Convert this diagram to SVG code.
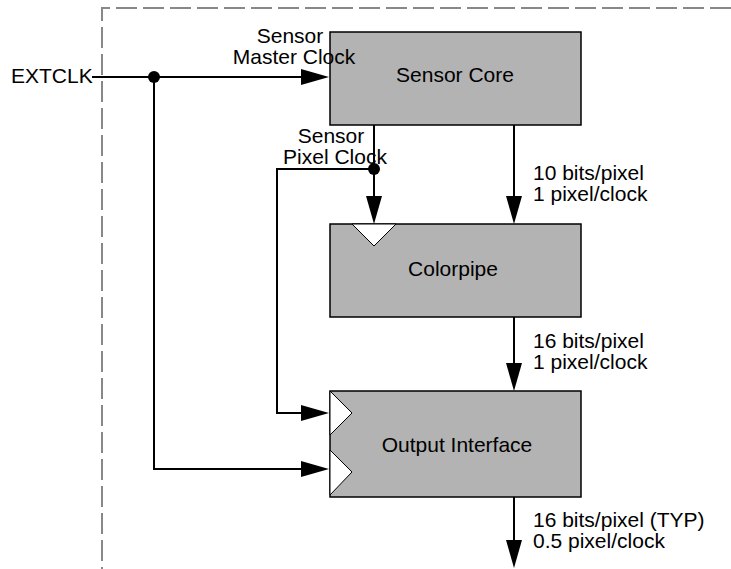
<svg xmlns="http://www.w3.org/2000/svg" width="731" height="569" viewBox="0 0 731 569">
<style>
.box{fill:#b3b3b3;stroke:#000;stroke-width:1.5}
.clk{fill:#fff;stroke:#000;stroke-width:1}
.w{fill:none;stroke:#000;stroke-width:2}
.ah{fill:#000;stroke:none}
.dot{fill:#000}
text{font-family:"Liberation Sans",Arial,sans-serif;font-size:21px;fill:#000}
.c{text-anchor:middle}
.border{fill:none;stroke:#888;stroke-width:2;stroke-dasharray:21 6}
</style>
<path class="border" d="M731 8 H102 V569"/>
<g id="connectors">
  <path class="w" d="M92 77 H302"/>
  <polygon class="ah" points="329,77 301,69 301,85"/>
  <circle class="dot" cx="154" cy="77" r="6"/>
  <path class="w" d="M154 77 V469 H302"/>
  <polygon class="ah" points="329,469 301,461 301,477"/>
  <path class="w" d="M374 125 V197"/>
  <polygon class="ah" points="374,224 366,196 382,196"/>
  <circle class="dot" cx="374" cy="169" r="6"/>
  <path class="w" d="M374 169 H277 V413 H302"/>
  <polygon class="ah" points="329,413 301,405 301,421"/>
  <path class="w" d="M514 125 V197"/>
  <polygon class="ah" points="514,224 506,196 522,196"/>
  <path class="w" d="M514 317 V364"/>
  <polygon class="ah" points="514,391 506,363 522,363"/>
  <path class="w" d="M514 497 V541"/>
  <polygon class="ah" points="514,568 506,540 522,540"/>
</g>
<g id="sensor-core">
  <rect class="box" x="330" y="32" width="251" height="93"/>
  <text class="c" x="455" y="82">Sensor Core</text>
</g>
<g id="colorpipe">
  <rect class="box" x="330" y="224" width="251" height="93"/>
  <polygon class="clk" points="352,224 396,224 374,246"/>
  <text class="c" x="453" y="276">Colorpipe</text>
</g>
<g id="output-interface">
  <rect class="box" x="330" y="391" width="251" height="106"/>
  <polygon class="clk" points="330,391 352,413 330,435"/>
  <polygon class="clk" points="330,450 352,472 330,495"/>
  <text class="c" x="457" y="452">Output Interface</text>
</g>
<g id="labels">
  <text x="11" y="83">EXTCLK</text>
  <text class="c" x="290" y="43">Sensor</text>
  <text class="c" x="294" y="64">Master Clock</text>
  <text class="c" x="331" y="143">Sensor</text>
  <text class="c" x="335" y="164">Pixel Clock</text>
  <text x="533" y="180">10 bits/pixel</text>
  <text x="533" y="201">1 pixel/clock</text>
  <text x="533" y="348">16 bits/pixel</text>
  <text x="533" y="369">1 pixel/clock</text>
  <text x="533" y="527">16 bits/pixel (TYP)</text>
  <text x="533" y="548">0.5 pixel/clock</text>
</g>
</svg>
